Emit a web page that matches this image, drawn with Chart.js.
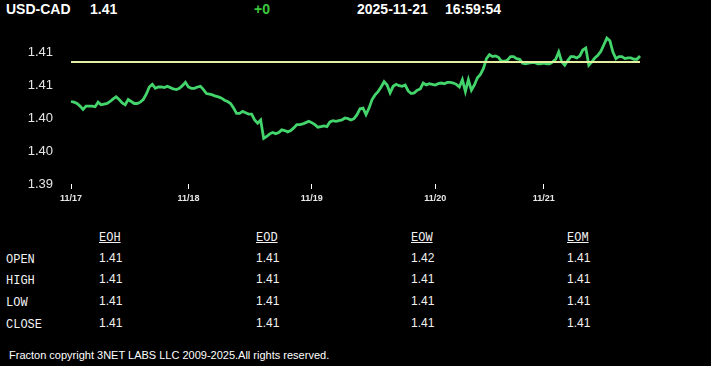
<!DOCTYPE html>
<html>
<head>
<meta charset="utf-8">
<script src="https://cdn.jsdelivr.net/npm/chart.js@4.4.1/dist/chart.umd.min.js"></script>
<style>
  body { margin: 0; background: #000; width: 711px; height: 366px; overflow: hidden; position: relative; }
  .t { position: absolute; color: #fff; white-space: pre; }
  .hd { font: bold 14px "Liberation Sans", Arial, sans-serif; line-height: 18px; top: 0; }
  .tb { font: 12px "Liberation Mono", "DejaVu Sans Mono", monospace; line-height: 14px; color: #f2f2f2; }
  .num { font: 12px "Liberation Sans", Arial, sans-serif; }
  .ul { text-decoration: underline; }
  #wrap { position: absolute; left: 0; top: 0; width: 711px; height: 215px; }
</style>
</head>
<body>

<div class="t hd" style="left:6px">USD-CAD</div>
<div class="t hd" style="left:90px">1.41</div>
<div class="t hd" style="left:254px;color:#3dc83d">+0</div>
<div class="t hd" style="left:357px">2025-11-21</div>
<div class="t hd" style="left:445px">16:59:54</div>

<div id="wrap"><canvas id="lineChart" width="711" height="215"></canvas></div>

<div id="tbl"></div>

<div class="t" style="left:9px;top:348px;font:11px 'Liberation Sans', Arial, sans-serif;line-height:14px">Fracton copyright 3NET LABS LLC 2009-2025.All rights reserved.</div>

<script>
//  Price samples (USD-CAD), one every few minutes, 11/17 .. 11/21
var prices = [
    1.4025, 1.4024, 1.4022, 1.4018, 1.4013, 1.4018, 1.4018, 1.4018, 1.4017, 1.4024,
    1.4020, 1.4021, 1.4022, 1.4025, 1.4029, 1.4032, 1.4028, 1.4023, 1.4020, 1.4028,
    1.4025, 1.4022, 1.4022, 1.4024, 1.4028, 1.4036, 1.4047, 1.4051, 1.4045, 1.4047,
    1.4047, 1.4046, 1.4048, 1.4046, 1.4044, 1.4043, 1.4045, 1.4049, 1.4054, 1.4047,
    1.4045, 1.4045, 1.4047, 1.4048, 1.4043, 1.4037, 1.4036, 1.4035, 1.4033, 1.4032,
    1.4030, 1.4027, 1.4025, 1.4022, 1.4015, 1.4007, 1.4007, 1.4010, 1.4008, 1.4006,
    1.4006, 1.3997, 1.3992, 1.3997, 1.3969, 1.3972, 1.3976, 1.3978, 1.3976, 1.3978,
    1.3982, 1.3981, 1.3979, 1.3981, 1.3985, 1.3990, 1.3990, 1.3991, 1.3993, 1.3995,
    1.3993, 1.3990, 1.3986, 1.3987, 1.3988, 1.3987, 1.3994, 1.3996, 1.3995, 1.3996,
    1.3997, 1.4000, 1.3999, 1.3997, 1.3999, 1.4005, 1.4014, 1.4015, 1.4005, 1.4015,
    1.4028, 1.4035, 1.4040, 1.4047, 1.4055, 1.4050, 1.4038, 1.4048, 1.4051, 1.4049,
    1.4048, 1.4050, 1.4041, 1.4037, 1.4038, 1.4042, 1.4044, 1.4053, 1.4050, 1.4052,
    1.4051, 1.4050, 1.4052, 1.4053, 1.4052, 1.4054, 1.4054, 1.4053, 1.4051, 1.4047,
    1.4058, 1.4040, 1.4058, 1.4042, 1.4050, 1.4061, 1.4066, 1.4075, 1.4090, 1.4096,
    1.4093, 1.4094, 1.4092, 1.4086, 1.4086, 1.4088, 1.4093, 1.4093, 1.4090, 1.4089,
    1.4083, 1.4082, 1.4083, 1.4084, 1.4084, 1.4082, 1.4082, 1.4083, 1.4082, 1.4082,
    1.4085, 1.4089, 1.4100, 1.4085, 1.4080, 1.4087, 1.4093, 1.4093, 1.4091, 1.4094,
    1.4103, 1.4106, 1.4080, 1.4085, 1.4091, 1.4095, 1.4101, 1.4111, 1.4121, 1.4117,
    1.4100, 1.4090, 1.4093, 1.4093, 1.4090, 1.4091, 1.4091, 1.4089, 1.4089, 1.4094
];
var prevClose = 1.4085;

//  First sample of each day and its label
var dayStarts = [0, 39, 80, 121, 157];
var dayLabels = ["11/17", "11/18", "11/19", "11/20", "11/21"];

//  Price axis
var yTicks = [1.39, 1.395, 1.40, 1.405, 1.41];
var yTickLabels = ["1.39", "1.40", "1.40", "1.41", "1.41"];

//  Summary table
var colNames = ["EOH", "EOD", "EOW", "EOM"];
var rowNames = ["OPEN", "HIGH", "LOW", "CLOSE"];
var tableVals = [
    ["1.41", "1.41", "1.42", "1.41"],
    ["1.41", "1.41", "1.41", "1.41"],
    ["1.41", "1.41", "1.41", "1.41"],
    ["1.41", "1.41", "1.41", "1.41"]
];

//  build table
var colX = [99, 256, 411, 567];
var rowY = [253, 274, 296, 318];
var html = "";
colNames.forEach(function(c, j) {
    html += '<div class="t tb ul" style="left:' + colX[j] + 'px;top:231px">' + c + '</div>';
});
rowNames.forEach(function(r, i) {
    html += '<div class="t tb" style="left:6px;top:' + rowY[i] + 'px">' + r + '</div>';
    tableVals[i].forEach(function(v, j) {
        html += '<div class="t tb num" style="left:' + colX[j] + 'px;top:' + (rowY[i] - 2) + 'px">' + v + '</div>';
    });
});
document.getElementById("tbl").innerHTML = html;

var pts = prices.map(function(p, i) { return {x: i, y: p}; });
var closePts = prices.map(function(p, i) { return {x: i, y: prevClose}; });

new Chart(document.getElementById("lineChart"), {
    type: 'line',
    data: {
        datasets: [
            {
                label: "Close",
                data: closePts,
                borderColor: "#e4eea0",
                borderWidth: 2,
                pointRadius: 0,
                fill: false
            },
            {
                label: "USD-CAD",
                data: pts,
                borderColor: "#43d46c",
                borderWidth: 2.8,
                pointRadius: 0,
                lineTension: 0,
                fill: false,
                clip: false
            }]
    },
    options: {
        responsive: false,
        animation: false,
        layout: {padding: {top: 52, right: 71, left: 0, bottom: 0}},
        plugins: {
            legend: {display: false},
            tooltip: {enabled: false}
        },
        scales: {
            x: {
                type: 'linear',
                min: 0,
                max: prices.length - 1,
                afterBuildTicks: function(scale) {
                    scale.ticks = dayStarts.map(function(v) { return {value: v}; });
                },
                afterFit: function(scale) { scale.height = 31; },
                ticks: {
                    autoSkip: false,
                    maxRotation: 0,
                    padding: 4,
                    color: "#e8e8e8",
                    font: {family: "Liberation Sans", size: 9, weight: 'bold'},
                    callback: function(v, i) { return dayLabels[i]; }
                },
                grid: {drawOnChartArea: false, drawTicks: true, tickLength: 5, color: "#ffffff", lineWidth: 1},
                border: {display: false}
            },
            y: {
                min: 1.39,
                max: 1.41,
                afterBuildTicks: function(scale) {
                    scale.ticks = yTicks.map(function(v) { return {value: v}; });
                },
                afterFit: function(scale) { scale.width = 71; },
                ticks: {
                    padding: 10,
                    color: "#e6e6e6",
                    font: {family: "Liberation Sans", size: 13},
                    callback: function(v, i) { return yTickLabels[i]; }
                },
                grid: {display: false},
                border: {display: false}
            }
        }
    }
});
</script>
</body>
</html>
